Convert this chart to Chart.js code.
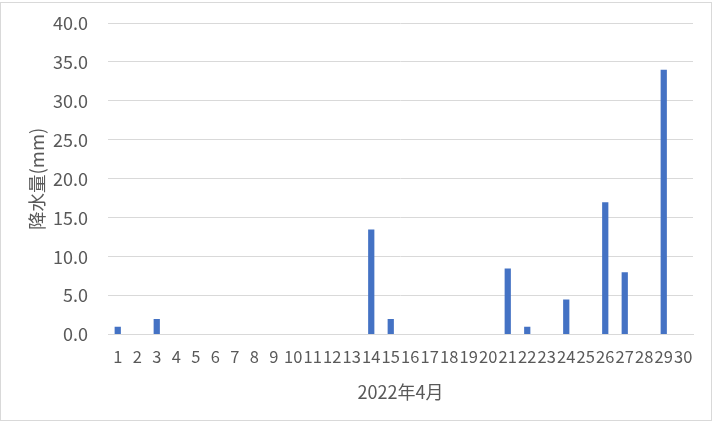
<!DOCTYPE html>
<html>
<head>
<meta charset="utf-8">
<script src="https://cdn.jsdelivr.net/npm/chart.js@4.4.0/dist/chart.umd.min.js"></script>
<style>
  body { margin: 0; background: #fff; }
  #wrap { position: relative; width: 715px; height: 423px; }
  #frame { position: absolute; left: 0; top: 2px; width: 712px; height: 419px; border: 1px solid #d9d9d9; box-sizing: border-box; }
</style>
</head>
<body>
<div id="wrap">
  <div id="frame"></div>
  <canvas id="grafico" width="715" height="423" style="position:absolute;left:0;top:0"></canvas>
</div>
<script>
// 日付 (2022年4月)
const dias = ['1','2','3','4','5','6','7','8','9','10','11','12','13','14','15','16','17','18','19','20','21','22','23','24','25','26','27','28','29','30'];
// 降水量 (mm)
const chuva = [1.0, 0, 2.0, 0, 0, 0, 0, 0, 0, 0, 0, 0, 0, 13.5, 2.0, 0, 0, 0, 0, 0, 8.5, 1.0, 0, 4.5, 0, 17.0, 8.0, 0, 34.0, 0];
const ticksY = [0, 5, 10, 15, 20, 25, 30, 35, 40];

const fonte = '"Noto Sans CJK JP", "Noto Sans", sans-serif';
const cinza = '#595959';

const ctx = document.getElementById('grafico').getContext('2d');
new Chart(ctx, {
  type: 'bar',
  data: {
    labels: dias,
    datasets: [{
      label: '降水量',
      data: chuva,
      backgroundColor: '#4472c4',
      categoryPercentage: 1,
      barPercentage: 0.32
    }]
  },
  options: {
    responsive: false,
    animation: false,
    layout: { padding: { top: 23, right: 22, left: 26, bottom: 16 } },
    plugins: { legend: { display: false }, tooltip: { enabled: false } },
    scales: {
      x: {
        grid: { display: false, drawTicks: false },
        border: { display: true, color: '#d9d9d9' },
        ticks: { color: cinza, font: { family: fonte, size: 16.5 }, autoSkip: false, maxRotation: 0, minRotation: 0, padding: 12 },
        title: { display: true, text: '2022年4月', color: cinza, font: { family: fonte, size: 18 }, padding: { top: 3 } }
      },
      y: {
        min: 0, max: 40,
        afterBuildTicks: axis => { axis.ticks = ticksY.map(v => ({ value: v })); },
        afterFit: axis => { axis.width = 82; axis.paddingTop = 0; axis.paddingBottom = 0; },
        grid: { color: '#d9d9d9', drawTicks: false },
        border: { display: false },
        ticks: { color: cinza, font: { family: fonte, size: 18 }, padding: 20, callback: v => v.toFixed(1) },
        title: { display: true, text: '降水量(mm)', color: cinza, font: { family: fonte, size: 18.5 }, padding: { top: 0, bottom: 2 } }
      }
    }
  }
});
</script>
</body>
</html>
